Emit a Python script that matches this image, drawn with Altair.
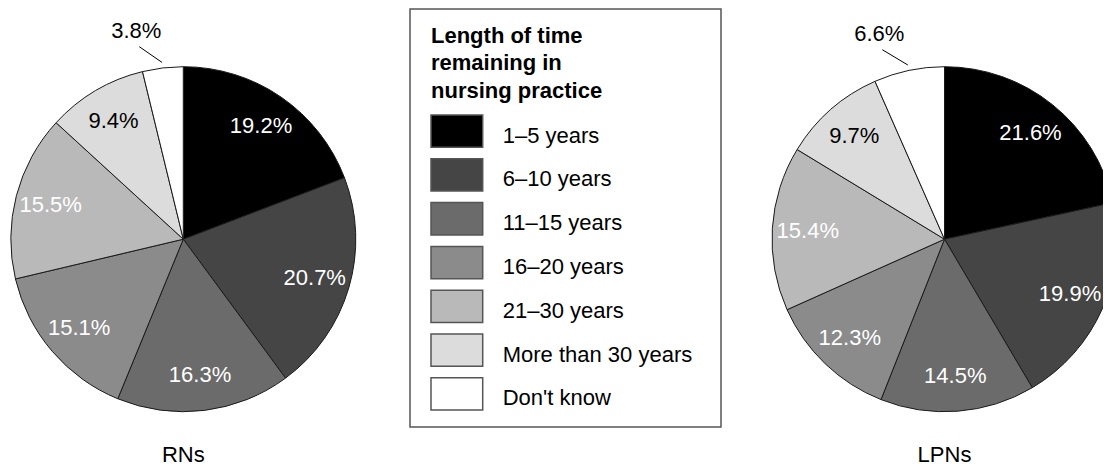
import altair as alt
import pandas as pd

# ---------------- data ----------------
categories = ["1–5 years", "6–10 years", "11–15 years", "16–20 years",
              "21–30 years", "More than 30 years", "Don't know"]
rn_values = [19.2, 20.7, 16.3, 15.1, 15.5, 9.4, 3.8]
lpn_values = [21.6, 19.9, 14.5, 12.3, 15.4, 9.7, 6.6]
group_names = ["RNs", "LPNs"]
legend_title = ["Length of time", "remaining in", "nursing practice"]

# ---------------- style ----------------
fills = ["#000000", "#454545", "#6b6b6b", "#8b8b8b", "#b9b9b9", "#dcdcdc", "#ffffff"]
FONT = "Liberation Sans"
W, H = 1095, 458
R = 172.5
CY = 231.2
CENTERS = [175.3, 936.5]

color_scale = alt.Scale(domain=categories, range=fills)


def pie(values, name, cx):
    df = pd.DataFrame({"cat": categories, "value": values, "idx": list(range(len(values)))})
    base = alt.Chart(df).encode(
        theta=alt.Theta("value:Q", stack=True, scale=alt.Scale(domain=[0, 100])),
        order=alt.Order("idx:Q", sort="ascending"),
        x=alt.value(cx),
        y=alt.value(CY),
    )
    arcs = base.mark_arc(outerRadius=R, stroke="#1a1a1a", strokeWidth=1).encode(
        color=alt.Color("cat:N", scale=color_scale, legend=None)
    )
    inner = base.transform_calculate(
        label="datum.cat == \"Don't know\" ? '' : format(datum.value, '.1f') + '%'"
    ).mark_text(radius=137, font=FONT, fontSize=22).encode(
        text="label:N",
        color=alt.condition("datum.cat == 'More than 30 years'", alt.value("#000000"), alt.value("#ffffff")),
    )
    outer = base.transform_calculate(
        label="datum.cat == \"Don't know\" ? format(datum.value, '.1f') + '%' : ''"
    ).mark_text(radius=210, dx=-22, font=FONT, fontSize=22, color="#000000").encode(text="label:N")

    line = (
        alt.Chart(df)
        .transform_window(cum="sum(value)", sort=[alt.SortField("idx")], frame=[None, 0])
        .transform_calculate(mid="(datum.cum - datum.value / 2) / 100 * 2 * PI")
        .transform_calculate(xs=f"{cx} + 178 * sin(datum.mid)")
        .transform_calculate(ys=f"{CY} - 178 * cos(datum.mid)")
        .transform_calculate(xe=f"{cx} + 210 * sin(datum.mid) - 19")
        .transform_calculate(ye=f"{CY} - 210 * cos(datum.mid) + 16")
        .transform_filter("datum.cat == \"Don't know\"")
        .mark_rule(color="#000000", strokeWidth=1)
        .encode(
            x=alt.X("xs:Q", scale=None),
            y=alt.Y("ys:Q", scale=None),
            x2="xe:Q",
            y2="ye:Q",
        )
    )
    label = alt.Chart(pd.DataFrame({"g": [name]})).mark_text(
        font=FONT, fontSize=22, baseline="alphabetic", color="#000000"
    ).encode(text="g:N", x=alt.value(cx), y=alt.value(454))
    return [arcs, inner, outer, line, label]


# ---------------- legend ----------------
leg_df = pd.DataFrame({"cat": categories})
band = alt.Scale(domain=categories, range=[101.25, 407.85], paddingInner=0.2626, paddingOuter=0.1313)

box = alt.Chart(pd.DataFrame({"a": [0]})).mark_rect(
    fill="#ffffff", stroke="#555555", strokeWidth=1.5
).encode(x=alt.value(402), x2=alt.value(713), y=alt.value(1), y2=alt.value(419))

title = alt.Chart(pd.DataFrame({"t": ["\n".join(legend_title)]})).mark_text(
    lineBreak="\n", lineHeight=27.5, font=FONT, fontSize=22, fontWeight="bold",
    align="left", baseline="alphabetic", color="#000000"
).encode(text="t:N", x=alt.value(423), y=alt.value(34.9))

swatches = alt.Chart(leg_df).mark_rect(stroke="#555555", strokeWidth=1.5).encode(
    y=alt.Y("cat:N", scale=band, axis=None, sort=categories),
    x=alt.value(423), x2=alt.value(474.7),
    color=alt.Color("cat:N", scale=color_scale, legend=None),
)
leg_labels = alt.Chart(leg_df).mark_text(
    font=FONT, fontSize=22, align="left", baseline="alphabetic", dy=11.5, color="#000000"
).encode(
    y=alt.Y("cat:N", scale=band, axis=None, sort=categories),
    x=alt.value(494.7),
    text="cat:N",
)

layers = [box, title, swatches, leg_labels]
layers += pie(rn_values, group_names[0], CENTERS[0])
layers += pie(lpn_values, group_names[1], CENTERS[1])

chart = (
    alt.layer(*layers)
    .resolve_scale(y="independent", x="independent", theta="independent")
    .properties(width=W, height=H, padding=0, autosize=alt.AutoSizeParams(type="none"), background="#ffffff")
    .configure_view(stroke=None)
)

chart.save("out.html", embed_options={"renderer": "svg", "actions": False})
